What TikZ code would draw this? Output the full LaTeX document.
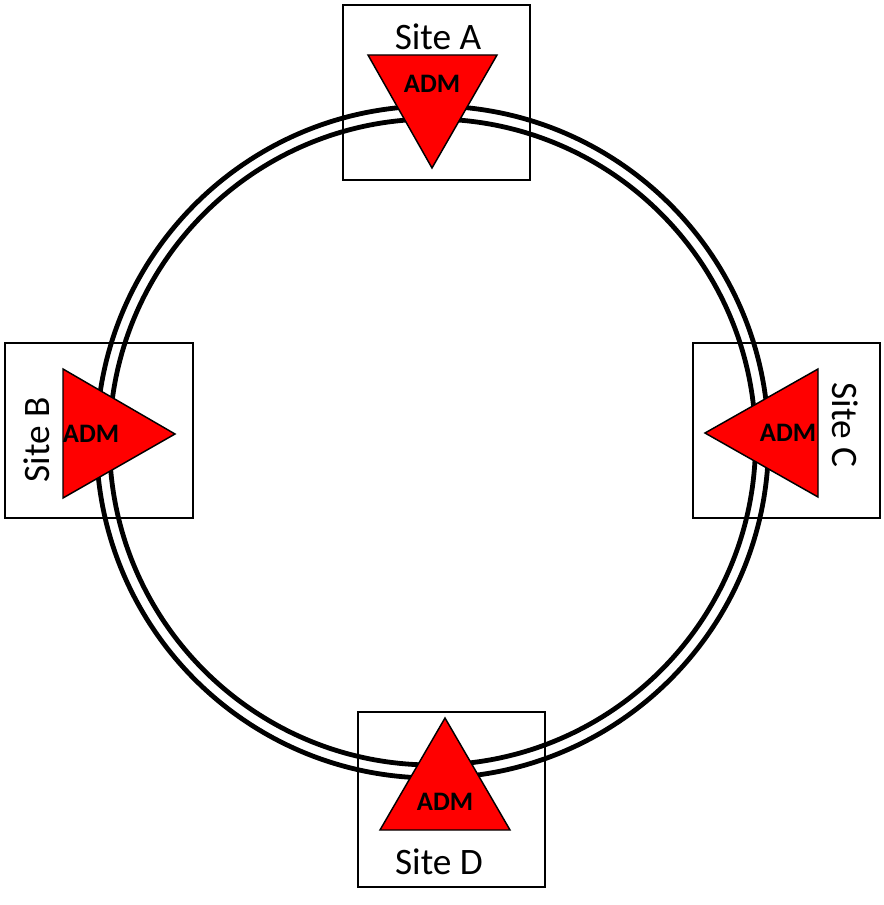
\documentclass[tikz,border=0pt]{standalone}
\usepackage{fontspec}
\setmainfont{Carlito}
\usepackage{tikz}
\usetikzlibrary{calc,positioning}

\begin{document}
\begin{tikzpicture}[x=0.75pt,y=-0.75pt,
    ring/.style={line width=3.6pt},
    sitebox/.style={draw,line width=1.5pt},
    admtri/.style={draw,fill=red,line width=1.1pt,line join=miter},
    admlabel/.style={font=\fontsize{20}{24}\selectfont\bfseries},
    sitelabel/.style={font=\fontsize{28}{32}\selectfont}]
    \useasboundingbox (0,0) rectangle (883,905);
    \coordinate (hub) at (432.5,442);
    \draw[ring] (hub) circle[radius=336];
    \draw[ring] (hub) circle[radius=323];
    % sites
    \draw[sitebox] (343,5) rectangle (530,180);
    \draw[sitebox] (5,343) rectangle (193,518);
    \draw[sitebox] (693,343) rectangle (880,518);
    \draw[sitebox] (358,712) rectangle (545,887);
    % add/drop multiplexers
    \draw[admtri] (368,55) -- (497,55) -- (432,168) -- cycle;
    \draw[admtri] (63,369) -- (63,498) -- (175,434) -- cycle;
    \draw[admtri] (818,369) -- (818,497) -- (705,433) -- cycle;
    \draw[admtri] (380,830) -- (510,830) -- (445,718) -- cycle;
    \node[admlabel] (admA) at (432,84) {ADM};
    \node[admlabel] (admB) at (91,434) {ADM};
    \node[admlabel] (admC) at (788,433) {ADM};
    \node[admlabel] (admD) at (445,802) {ADM};
    \node[sitelabel] (siteA) at (438,37) {Site A};
    \node[sitelabel,rotate=90] (siteB) at (37,440) {Site B};
    \node[sitelabel,rotate=-90] (siteC) at (845,425) {Site C};
    \node[sitelabel] (siteD) at (439,862) {Site D};
  \end{tikzpicture}
\end{document}
